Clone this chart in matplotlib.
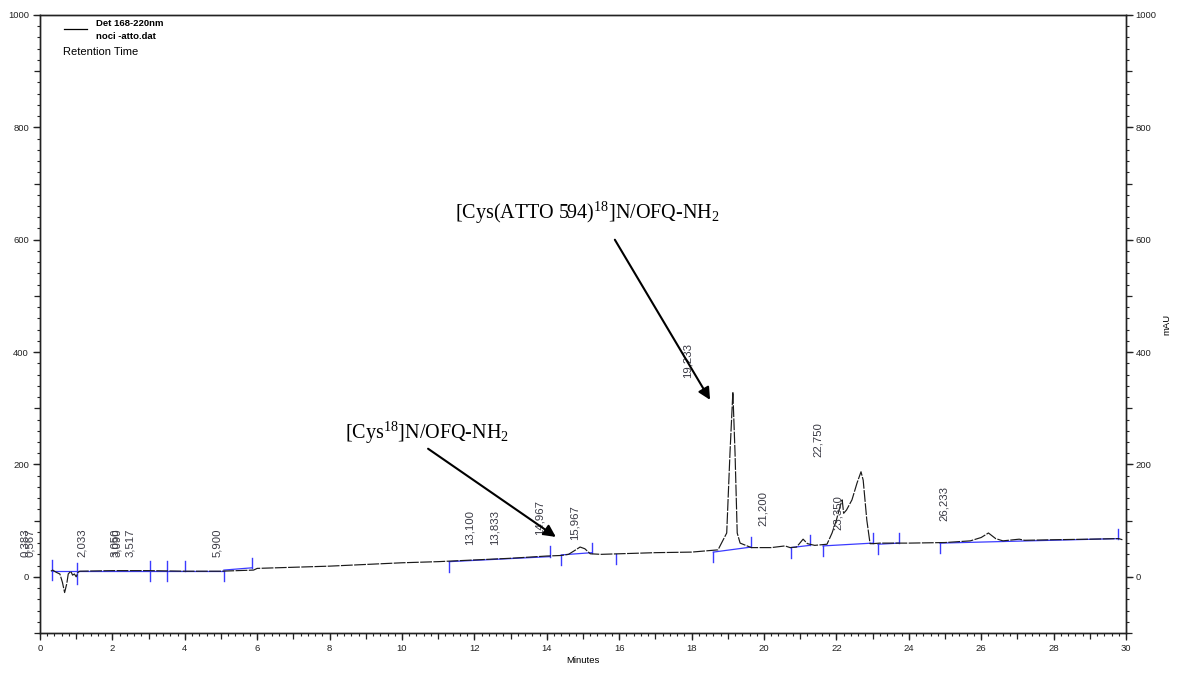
import matplotlib
matplotlib.use("Agg")
import matplotlib.pyplot as plt
from matplotlib.ticker import MultipleLocator, NullFormatter

plt.rcParams['font.family'] = ['Liberation Sans', 'DejaVu Sans']
plt.rcParams['mathtext.fontset'] = 'custom'
plt.rcParams['mathtext.rm'] = 'Liberation Serif'
plt.rcParams['mathtext.it'] = 'Liberation Serif:italic'
plt.rcParams['mathtext.bf'] = 'Liberation Serif:bold'

# ---- chromatogram trace (minutes, mAU) ----
trace_t = [0.30, 0.35, 0.45, 0.55, 0.62, 0.68, 0.74, 0.78, 0.85, 0.90, 0.95, 1.00, 1.05,
           1.10, 2.0, 3.0, 4.0, 5.0, 5.9, 6.0, 7.0, 8.0, 9.0, 10.0, 11.0, 12.0, 13.0,
           13.5, 14.0, 14.4, 14.6, 14.75, 14.92, 15.05, 15.2, 15.5, 16.0, 17.0, 18.0,
           18.73, 18.97, 19.06, 19.14, 19.20, 19.26, 19.34, 19.65, 20.2, 20.58, 20.72,
           20.9, 21.08, 21.2, 21.4, 21.74, 21.88, 22.0, 22.1, 22.16, 22.2, 22.28, 22.43,
           22.57, 22.68, 22.74, 22.84, 22.93, 23.01, 23.2, 24.0, 25.0, 25.7, 26.0, 26.2,
           26.4, 26.6, 26.9, 27.05, 27.2, 28.0, 29.0, 29.8, 29.9]
trace_v = [10, 12, 8, 5, -10, -28, -12, 5, 10, 3, 5, 0, 8,
           10, 11, 11, 10, 10, 12, 15, 17, 19, 22, 25, 27, 30, 33,
           35, 37, 38, 40, 46, 53, 50, 41, 40, 41, 43, 44,
           48, 78, 220, 329, 220, 78, 60, 52, 52, 55, 52,
           53, 67, 59, 56, 58, 78, 101, 125, 137, 113, 119, 137,
           167, 187, 172, 101, 59, 59, 60, 60, 61, 64, 70, 78,
           68, 64, 66, 67, 65, 66, 67, 68, 66]

# ---- integration baseline segments (start, end, start value, end value) ----
base_t0 = [0.33, 5.08, 11.3, 14.4, 18.6, 20.74, 21.63, 23.15, 24.86]
base_t1 = [5.08, 5.85, 14.1, 15.25, 19.65, 21.27, 23.0, 23.73, 29.78]
base_v0 = [11, 12, 27, 39, 44, 52, 55, 58, 60]
base_v1 = [11, 16, 36, 43, 53, 56, 60, 60, 68]

# ---- integration event marks (time, baseline value, kind) ----
mark_t = [0.33, 1.02, 3.04, 3.5, 4.0, 5.08, 5.85, 11.3, 14.1, 14.4, 15.25, 15.9,
          18.6, 19.65, 20.74, 21.27, 21.63, 23.0, 23.15, 23.73, 24.86, 29.78]
mark_v = [12, 6, 11, 11, 11, 11, 16, 27, 36, 39, 43, 41,
          44, 53, 52, 56, 55, 60, 58, 60, 60, 68]
mark_k = ['both', 'both', 'both', 'both', 'up', 'down', 'up', 'down', 'up', 'down', 'up', 'down',
          'down', 'up', 'down', 'up', 'down', 'up', 'down', 'up', 'down', 'up']

# ---- peak retention time labels (text, x position, bottom of text in mAU) ----
peak_labels = ['0,383', '0,567', '2,033', '3,050', '3,090', '3,517', '5,900', '13,100',
               '13,833', '14,967', '15,967', '19,233', '21,200', '22,750', '23,350', '26,233']
label_x = [-0.42, -0.28, 1.16, 2.08, 2.12, 2.5, 4.9, 11.88,
           12.57, 13.8, 14.78, 17.9, 19.97, 21.5, 22.04, 24.97]
label_y = [36, 36, 36, 36, 36, 36, 36, 57,
           57, 75, 66, 354, 91, 214, 84, 100]

fig = plt.figure(figsize=(11.79, 6.78), dpi=100)
ax = fig.add_axes([40/1179, 45/678, 1086/1179, 618/678])
ax.set_xlim(0, 30)
ax.set_ylim(-100, 1000)

ax.plot(trace_t, trace_v, color='#1a1a1a', lw=0.85, ls=(0, (10, 1.2)), zorder=3)

for a, b, va, vb in zip(base_t0, base_t1, base_v0, base_v1):
    ax.plot([a, b], [va, vb], color='#3b3bff', lw=0.9, zorder=2)
for t, v, k in zip(mark_t, mark_v, mark_k):
    lo = v - 18 if k in ('both', 'down') else v
    hi = v + 18 if k in ('both', 'up') else v
    ax.plot([t, t], [lo, hi], color='#3b3bff', lw=1.0, zorder=2)

for s, x, y in zip(peak_labels, label_x, label_y):
    ax.text(x, y, s, rotation=90, ha='center', va='bottom', fontsize=8.2,
            color='#3a3a44', clip_on=False)

ann_font = dict(fontfamily='Liberation Serif', fontsize=14.5, color='black')
ax.text(11.46, 648, r"[Cys(ATTO 594)$^{18}$]N/OFQ-NH$_{2}$", ha='left', va='center', **ann_font)
ax.text(8.43, 256, r"[Cys$^{18}$]N/OFQ-NH$_{2}$", ha='left', va='center', **ann_font)
arrow = dict(arrowstyle='-|>', mutation_scale=18, lw=1.5, color='black', shrinkA=0, shrinkB=0)
ax.annotate('', xy=(18.51, 315), xytext=(15.88, 600), arrowprops=arrow)
ax.annotate('', xy=(14.25, 71), xytext=(10.72, 228), arrowprops=arrow)

# legend-like header
ax.plot([0.66, 1.3], [975, 975], color='black', lw=0.9, clip_on=False)
ax.text(0.0516, 0.986, 'Det 168-220nm', transform=ax.transAxes, fontsize=6.8,
        fontweight='bold', va='center', ha='left')
ax.text(0.0516, 0.965, 'noci -atto.dat', transform=ax.transAxes, fontsize=6.8,
        fontweight='bold', va='center', ha='left')
ax.text(0.021, 0.940, 'Retention Time', transform=ax.transAxes, fontsize=8,
        va='center', ha='left')

# axes styling
for sp in ax.spines.values():
    sp.set_linewidth(1.0)
    sp.set_color('#222222')
ax.xaxis.set_major_locator(MultipleLocator(2))
ax.xaxis.set_minor_locator(MultipleLocator(0.2))
ax.yaxis.set_major_locator(MultipleLocator(200))
ax.yaxis.set_minor_locator(MultipleLocator(20))
ax.tick_params(axis='both', which='major', direction='out', length=5, width=0.9,
               labelsize=6.8, colors='#222222', pad=3)
ax.tick_params(axis='both', which='minor', direction='out', length=2.5, width=0.8, colors='#222222')
ax.set_xlabel('Minutes', fontsize=6.8, labelpad=2)

# medium ticks (every 1 min / 100 mAU)
secx = ax.secondary_xaxis('bottom')
secx.xaxis.set_major_locator(MultipleLocator(1))
secx.xaxis.set_major_formatter(NullFormatter())
secx.tick_params(length=4, width=0.9, colors='#222222')
secx.spines['bottom'].set_visible(False)
secy = ax.secondary_yaxis('left')
secy.yaxis.set_major_locator(MultipleLocator(100))
secy.yaxis.set_major_formatter(NullFormatter())
secy.tick_params(length=4, width=0.9, colors='#222222')
secy.spines['left'].set_visible(False)

ax2 = ax.twinx()
ax2.set_ylim(-100, 1000)
ax2.yaxis.set_major_locator(MultipleLocator(200))
ax2.yaxis.set_minor_locator(MultipleLocator(20))
ax2.tick_params(axis='y', which='major', direction='out', length=5, width=0.9,
                labelsize=6.8, colors='#222222', pad=2)
ax2.tick_params(axis='y', which='minor', direction='out', length=2.5, width=0.8, colors='#222222')
ax2.set_ylabel('mAU', fontsize=6.8, labelpad=4)
for sp in ax2.spines.values():
    sp.set_linewidth(1.0)
    sp.set_color('#222222')
secy2 = ax2.secondary_yaxis('right')
secy2.yaxis.set_major_locator(MultipleLocator(100))
secy2.yaxis.set_major_formatter(NullFormatter())
secy2.tick_params(length=4, width=0.9, colors='#222222')
secy2.spines['right'].set_visible(False)

fig.savefig('out.png', dpi=100, facecolor='white')
